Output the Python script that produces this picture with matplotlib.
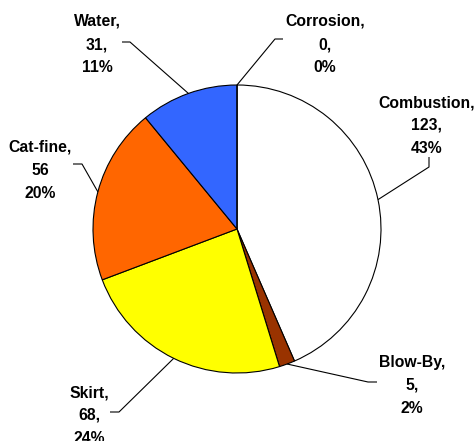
import numpy as np
import matplotlib
matplotlib.use("Agg")
import matplotlib.pyplot as plt

# Failure causes and their counts
causes = ["Combustion", "Blow-By", "Skirt", "Cat-fine", "Water", "Corrosion"]
counts = [123, 5, 68, 56, 31, 0]
colors = ["#FFFFFF", "#993300", "#FFFF00", "#FF6600", "#3366FF", "#3366FF"]
count_suffix = [",", ",", ",", "", ",", ","]

W, H = 476, 441
fig = plt.figure(figsize=(W / 100, H / 100), dpi=100)
ax = fig.add_axes([0, 0, 1, 1])

cx, cy, r = 237, H - 229, 144
wedges, _ = ax.pie(counts, colors=colors, startangle=90, counterclock=False,
                   center=(cx, cy), radius=r, frame=True,
                   wedgeprops=dict(edgecolor="black", linewidth=0.8))
ax.set_xlim(0, W)
ax.set_ylim(0, H)
ax.set_aspect("equal")
ax.axis("off")

total = sum(counts)

# label placement (pixels from the top-left corner): text centre x, first row y,
# and the short stub of the leader line next to the text
label_pos = {
    "Combustion": (427, 101, [(429, 157), (429, 167)]),
    "Blow-By":    (412, 361, [(377, 382), (368, 382)]),
    "Skirt":      (89, 391, [(110, 412), (119, 412)]),
    "Cat-fine":   (40, 146, [(73, 164), (82, 164)]),
    "Water":      (97, 20, [(122, 42), (130, 42)]),
    "Corrosion":  (325, 20, [(283, 39), (275, 39)]),
}
row_gap = 23

for w, name, val, suf in zip(wedges, causes, counts, count_suffix):
    pct = round(100 * val / total)
    rows = [f"{name},", f"{val}{suf}", f"{pct}%"]
    tx, ty, stub = label_pos[name]
    for i, s in enumerate(rows):
        ax.text(tx, H - (ty + i * row_gap) - 6, s, ha="center", va="baseline",
                fontsize=11.3, fontweight="bold", family="Liberation Sans",
                color="black")
    ang = np.deg2rad((w.theta1 + w.theta2) / 2)
    ex, ey = cx + r * np.cos(ang), cy + r * np.sin(ang)
    xs = [p[0] for p in stub] + [ex]
    ys = [H - p[1] for p in stub] + [ey]
    ax.plot(xs, ys, color="black", lw=0.8, solid_capstyle="butt")

fig.savefig("out.png", dpi=100)
